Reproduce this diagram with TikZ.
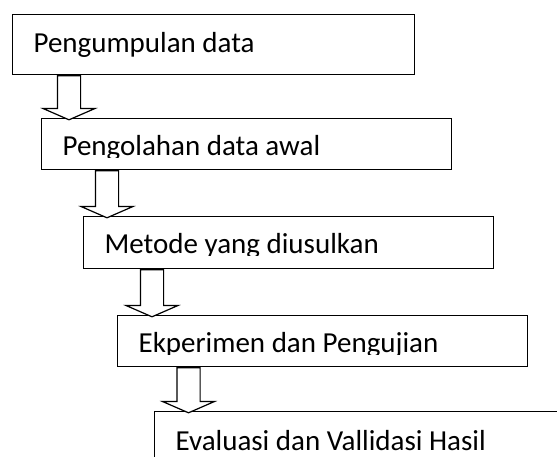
\documentclass[tikz,border=0pt]{standalone}
\usepackage{fontspec}
\setmainfont{Carlito}
\usetikzlibrary{shapes.arrows,calc}

\begin{document}
\begin{tikzpicture}[x=1pt,y=-1pt,line width=1.2pt]

  \tikzstyle{stage}=[rectangle,draw=black,anchor=north west,inner sep=0pt,minimum width=410pt]
  \tikzstyle{caption}=[anchor=base west,inner sep=0pt,font=\fontsize{29}{35}\selectfont]
  \tikzstyle{flow}=[single arrow,draw=black,fill=white,rotate=-90,anchor=tail,
    inner xsep=0pt,inner ysep=11pt,text height=0pt,text depth=0pt,
    single arrow head extend=14.5pt,single arrow tip angle=133]

  \useasboundingbox (0,0) rectangle (557,457);
  \clip (0,0) rectangle (557,457);

  % boxes
  \node[stage,minimum width=402pt,minimum height=60pt] (b1) at (12,14)  {};
  \node[stage,minimum height=51pt] (b2) at (41,118)  {};
  \node[stage,minimum height=52pt] (b3) at (83,216)  {};
  \node[stage,minimum height=51pt] (b4) at (117,315) {};
  \node[stage,minimum height=60pt] (b5) at (154,411) {};

  % texts (descenders cut off as in the original text boxes)
  \node[caption] (t1) at ($(b1.north west)+(21,39)$) {Pengumpulan data};
  \begin{scope}
    \clip (b2.north west) rectangle ($(b2.north east)+(0,40)$);
    \node[caption] (t2) at ($(b2.north west)+(21,38)$) {Pengolahan data awal};
  \end{scope}
  \begin{scope}
    \clip (b3.north west) rectangle ($(b3.north east)+(0,40)$);
    \node[caption] (t3) at ($(b3.north west)+(21,38)$) {Metode yang diusulkan};
  \end{scope}
  \begin{scope}
    \clip (b4.north west) rectangle ($(b4.north east)+(0,39)$);
    \node[caption] (t4) at ($(b4.north west)+(21,37)$) {Ekperimen dan Pengujian};
  \end{scope}
  \node[caption] (t5) at ($(b5.north west)+(21,39)$) {Evaluasi dan Vallidasi Hasil};

  % arrows
  \node[flow,minimum height=44pt] (a1) at ($(b1.south west)+(57,0)$) {};
  \node[flow,minimum height=47pt] (a2) at ($(b2.south west)+(66,0)$) {};
  \node[flow,minimum height=47pt] (a3) at ($(b3.south west)+(69,0)$) {};
  \node[flow,minimum height=45pt] (a4) at ($(b4.south west)+(71.5,0)$) {};

\end{tikzpicture}
\end{document}
